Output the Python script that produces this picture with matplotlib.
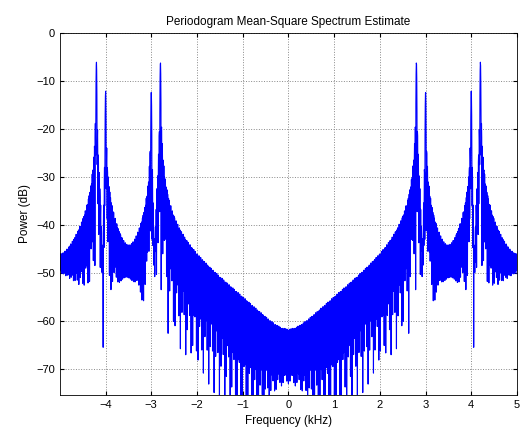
import numpy as np
import matplotlib
matplotlib.use("Agg")
import matplotlib.pyplot as plt

# signal: tone frequencies (kHz) and amplitudes
fs_khz = 10.0
tone_freqs = [2.8, 3.0, 4.0, 4.2]
tone_amps = [1.0, 0.5, 0.5, 1.0]
n_samples = 600
taper = 3
nfft = 2048

x_ticks = [-4, -3, -2, -1, 0, 1, 2, 3, 4, 5]
y_ticks = [-70, -60, -50, -40, -30, -20, -10, 0]

# signal and window (short cosine taper at both ends)
t = np.arange(n_samples) / fs_khz
sig = np.zeros(n_samples)
for f, a in zip(tone_freqs, tone_amps):
    sig += a * np.sin(2 * np.pi * f * t)
win = np.ones(n_samples)
ramp = 0.5 - 0.5 * np.cos(np.pi * (np.arange(taper) + 0.5) / taper)
win[:taper] = ramp
win[-taper:] = ramp[::-1]

# mean-square periodogram, two-sided, centred DC
X = np.fft.fftshift(np.fft.fft(sig * win, nfft))
pxx = np.roll(np.abs(X) ** 2 / np.sum(win) ** 2, -1)
freq = (np.arange(nfft) - nfft // 2 + 1) * fs_khz / nfft
pdb = 10 * np.log10(pxx + 1e-30)

plt.rcParams['font.family'] = ['Liberation Sans', 'DejaVu Sans']
fig = plt.figure(figsize=(5.27, 4.34), dpi=100)
ax = fig.add_axes([0.114, 0.09, 0.867, 0.834])
ax.plot(freq, pdb, color='#0000ff', lw=0.8)
ax.set_xlim(freq[0], freq[-1])
ax.set_ylim(-75.5, 0)
ax.set_xticks(x_ticks)
ax.set_yticks(y_ticks)
ax.grid(True, color='#888888', ls=':', lw=0.7)
ax.tick_params(direction='in', top=True, right=True, labelsize=8, length=3)
for s in ax.spines.values():
    s.set_linewidth(0.6)
ax.set_title('Periodogram Mean-Square Spectrum Estimate', fontsize=8.5)
ax.set_xlabel('Frequency (kHz)', fontsize=8.5)
ax.set_ylabel('Power (dB)', fontsize=8.5)
fig.savefig('out.png', dpi=100)
